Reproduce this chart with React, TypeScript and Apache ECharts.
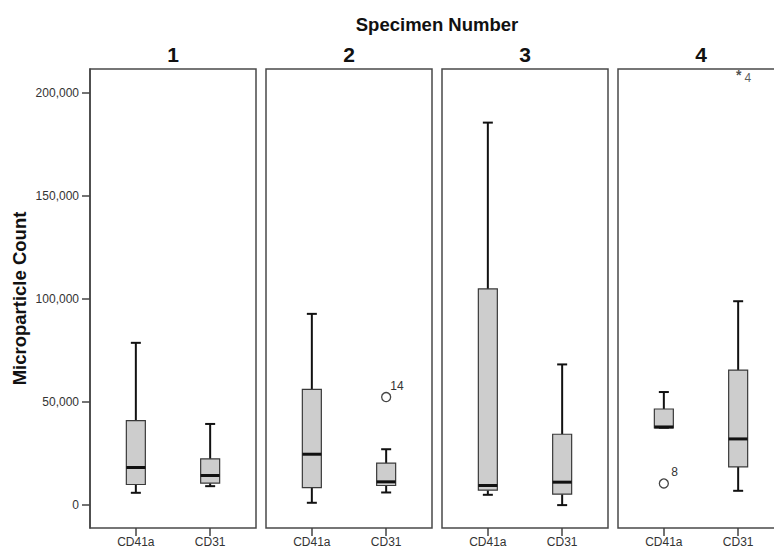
import React, { useEffect, useRef } from "react";
import * as echarts from "echarts";

const categories = ["CD41a", "CD31"];
const specimens = ["1", "2", "3", "4"];
// [lower whisker, Q1, median, Q3, upper whisker]
const cd41aStats = [
  [5970, 10000, 18230, 40970, 78700],
  [1130, 8500, 24680, 56130, 92750],
  [5000, 7260, 9520, 104850, 185500],
  [37500, 37500, 37900, 46620, 54840],
];
const cd31Stats = [
  [9190, 10650, 14360, 22420, 39360],
  [6130, 9520, 11290, 20320, 27100],
  [0, 5320, 11130, 34360, 68230],
  [6940, 18550, 32100, 65490, 98880],
];
// outliers (circles) and extremes (stars)
const outlierSpecimen = [1, 3];
const outlierCategory = [1, 0];
const outlierValue = [52400, 10500];
const outlierLabel = ["14", "8"];
const extremeSpecimen = [3];
const extremeCategory = [1];
const extremeValue = [209800];
const extremeLabel = ["4"];
const yTicks = [0, 50000, 100000, 150000, 200000];

const FONT = '"Liberation Sans", Arial, sans-serif';

export default function App() {
  const ref = useRef<HTMLDivElement>(null);
  useEffect(() => {
    document.body.style.margin = "0";
    if (!ref.current) return;
    const chart = echarts.init(ref.current, null, { renderer: "svg" });
    const lefts = [90, 266, 442, 618];
    const grids = lefts.map((l) => ({
      left: l,
      top: 69,
      width: 166,
      height: 459,
      show: true,
      borderColor: "#4a4a4a",
      borderWidth: 1.5,
      backgroundColor: "transparent",
      outerBoundsMode: "none",
    }));
    const xAxes = lefts.map((_, i) => ({
      type: "value",
      gridIndex: i,
      min: -0.617,
      max: 1.617,
      axisLine: { show: false, onZero: false },
      splitLine: { show: false },
      axisTick: {
        show: true,
        customValues: [0, 1],
        length: 8,
        lineStyle: { color: "#444", width: 1.5 },
      },
      axisLabel: {
        show: true,
        customValues: [0, 1],
        formatter: (v: number) => categories[Math.round(v)] ?? "",
        color: "#333",
        fontSize: 12,
        fontFamily: FONT,
        margin: 8,
      },
    }));
    const yAxes = lefts.map((_, i) => ({
      type: "value",
      gridIndex: i,
      min: -11100,
      max: 211500,
      splitLine: { show: false },
      axisLine: { show: i === 0, onZero: false, lineStyle: { color: "#444", width: 1.5 } },
      axisTick: {
        show: i === 0,
        customValues: yTicks,
        length: 8,
        lineStyle: { color: "#444", width: 1.5 },
      },
      axisLabel: {
        show: i === 0,
        customValues: yTicks,
        formatter: (v: number) => v.toLocaleString("en-US"),
        color: "#333",
        fontSize: 12,
        fontFamily: FONT,
        margin: 11,
      },
      name: i === 0 ? "Microparticle Count" : "",
      nameLocation: "middle",
      nameGap: 61,
      nameTextStyle: {
        fontSize: 18.5,
        fontWeight: "bold",
        color: "#111",
        fontFamily: FONT,
      },
    }));

    const boxSeries = specimens.map((_, i) => ({
      type: "custom",
      xAxisIndex: i,
      yAxisIndex: i,
      encode: { x: 0, y: [1, 2, 3, 4, 5] },
      data: [
        [0, ...cd41aStats[i]],
        [1, ...cd31Stats[i]],
      ],
      renderItem: (params: any, api: any) => {
        const x = api.value(0);
        const lo = api.coord([x, api.value(1)]);
        const q1 = api.coord([x, api.value(2)]);
        const md = api.coord([x, api.value(3)]);
        const q3 = api.coord([x, api.value(4)]);
        const hi = api.coord([x, api.value(5)]);
        const cx = lo[0];
        const hw = 9.5;
        const cw = 5;
        const ws = { stroke: "#111", lineWidth: 2 };
        return {
          type: "group",
          children: [
            { type: "line", shape: { x1: cx, y1: q3[1], x2: cx, y2: hi[1] }, style: ws },
            { type: "line", shape: { x1: cx, y1: q1[1], x2: cx, y2: lo[1] }, style: ws },
            { type: "line", shape: { x1: cx - cw, y1: hi[1], x2: cx + cw, y2: hi[1] }, style: ws },
            { type: "line", shape: { x1: cx - cw, y1: lo[1], x2: cx + cw, y2: lo[1] }, style: ws },
            {
              type: "rect",
              shape: { x: cx - hw, y: q3[1], width: hw * 2, height: q1[1] - q3[1] },
              style: { fill: "#cdcdcd", stroke: "#3a3a3a", lineWidth: 1.2 },
            },
            {
              type: "line",
              shape: { x1: cx - hw, y1: md[1], x2: cx + hw, y2: md[1] },
              style: { stroke: "#111", lineWidth: 3 },
            },
          ],
        };
      },
    }));

    const outlierSeries = specimens.map((_, i) => ({
      type: "scatter",
      xAxisIndex: i,
      yAxisIndex: i,
      symbol: "circle",
      symbolSize: 9,
      itemStyle: { color: "#fff", borderColor: "#444", borderWidth: 1.3, opacity: 1 },
      label: {
        show: true,
        formatter: "{b}",
        position: [16, -6],
        align: "center",
        verticalAlign: "middle",
        color: "#333",
        fontSize: 12,
        fontFamily: FONT,
      },
      data: outlierValue
        .map((v, k) => ({ k, v }))
        .filter((o) => outlierSpecimen[o.k] === i)
        .map((o) => ({ value: [outlierCategory[o.k], o.v], name: outlierLabel[o.k] })),
    }));

    const extremeSeries = specimens.map((_, i) => ({
      type: "scatter",
      xAxisIndex: i,
      yAxisIndex: i,
      symbol: "circle",
      symbolSize: 1,
      itemStyle: { color: "rgba(0,0,0,0)" },
      label: {
        show: true,
        formatter: (p: any) => "{s|*}{n|" + p.name + "}",
        position: [6, 2],
        align: "center",
        verticalAlign: "middle",
        rich: {
          s: { fontSize: 14, fontWeight: "bold", color: "#222", fontFamily: FONT, padding: [2, 3, 0, 0] },
          n: { fontSize: 12, color: "#333", fontFamily: FONT, padding: [8, 0, 0, 0] },
        },
      },
      data: extremeValue
        .map((v, k) => ({ k, v }))
        .filter((o) => extremeSpecimen[o.k] === i)
        .map((o) => ({ value: [extremeCategory[o.k], o.v], name: extremeLabel[o.k] })),
    }));

    const panelCenters = lefts.map((l) => l + 83);
    const graphics: any[] = [
      {
        type: "text",
        x: 437,
        y: 24,
        style: {
          text: "Specimen Number",
          fontSize: 18.5,
          fontWeight: "bold",
          fill: "#111",
          align: "center",
          verticalAlign: "middle",
          fontFamily: FONT,
        },
      },
      ...specimens.map((s, i) => ({
        type: "text",
        x: panelCenters[i],
        y: 54,
        style: {
          text: s,
          fontSize: 21,
          fontWeight: "bold",
          fill: "#111",
          align: "center",
          verticalAlign: "middle",
          fontFamily: FONT,
        },
      })),
    ];

    chart.setOption({
      animation: false,
      backgroundColor: "#fff",
      grid: grids,
      xAxis: xAxes,
      yAxis: yAxes,
      series: [...boxSeries, ...outlierSeries, ...extremeSeries],
      graphic: graphics,
    } as any);
    return () => chart.dispose();
  }, []);
  return <div ref={ref} style={{ width: 774, height: 559 }} />;
}
